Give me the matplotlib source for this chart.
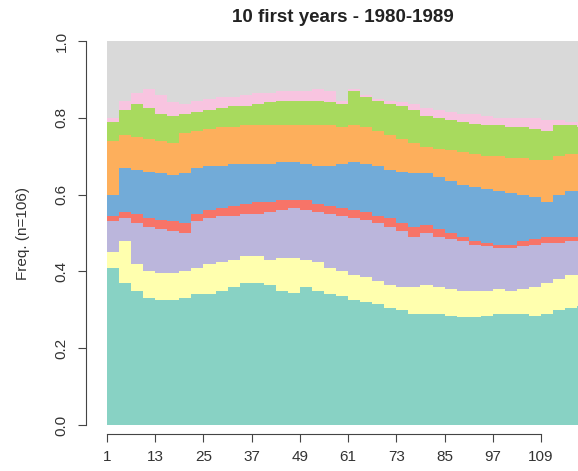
import numpy as np
import matplotlib.pyplot as plt

plt.rcParams['font.family'] = ['Liberation Sans', 'DejaVu Sans']

# mois (un point tous les 3 mois)
mois = np.arange(1, 121, 3)

# fréquences par état
etat1 = [0.41, 0.37, 0.35, 0.33, 0.325, 0.325, 0.33, 0.34, 0.34, 0.35,
         0.36, 0.37, 0.37, 0.365, 0.35, 0.345, 0.36, 0.35, 0.34, 0.335,
         0.325, 0.32, 0.315, 0.305, 0.30, 0.29, 0.29, 0.29, 0.285, 0.28,
         0.28, 0.285, 0.29, 0.29, 0.29, 0.285, 0.29, 0.30, 0.305, 0.31]
etat2 = [0.04, 0.11, 0.07, 0.07, 0.07, 0.07, 0.07, 0.07, 0.08, 0.075,
         0.07, 0.07, 0.07, 0.065, 0.085, 0.09, 0.07, 0.075, 0.07, 0.065,
         0.065, 0.065, 0.06, 0.06, 0.06, 0.07, 0.075, 0.07, 0.07, 0.07,
         0.07, 0.065, 0.065, 0.06, 0.065, 0.075, 0.08, 0.08, 0.085, 0.08]
etat3 = [0.08, 0.06, 0.105, 0.115, 0.115, 0.11, 0.10, 0.12, 0.12, 0.12,
         0.115, 0.11, 0.11, 0.125, 0.125, 0.13, 0.13, 0.13, 0.14, 0.145,
         0.15, 0.15, 0.15, 0.15, 0.145, 0.13, 0.135, 0.13, 0.13, 0.13,
         0.12, 0.115, 0.105, 0.11, 0.11, 0.11, 0.105, 0.095, 0.09, 0.09]
etat4 = [0.015, 0.015, 0.025, 0.025, 0.025, 0.025, 0.025, 0.02, 0.02, 0.02,
         0.025, 0.025, 0.03, 0.025, 0.025, 0.02, 0.025, 0.02, 0.02, 0.02,
         0.02, 0.02, 0.02, 0.025, 0.02, 0.025, 0.02, 0.02, 0.015, 0.01,
         0.01, 0.01, 0.01, 0.01, 0.015, 0.015, 0.015, 0.015, 0.01, 0.01]
etat5 = [0.055, 0.115, 0.115, 0.12, 0.12, 0.12, 0.13, 0.12, 0.115, 0.11,
         0.11, 0.105, 0.10, 0.10, 0.10, 0.10, 0.095, 0.10, 0.105, 0.115,
         0.125, 0.125, 0.13, 0.125, 0.135, 0.14, 0.135, 0.135, 0.135, 0.135,
         0.14, 0.14, 0.14, 0.135, 0.12, 0.11, 0.09, 0.11, 0.12, 0.12]
etat6 = [0.14, 0.085, 0.085, 0.085, 0.085, 0.085, 0.105, 0.095, 0.095, 0.10,
         0.095, 0.10, 0.10, 0.10, 0.095, 0.095, 0.10, 0.105, 0.105, 0.095,
         0.095, 0.095, 0.09, 0.09, 0.085, 0.08, 0.07, 0.075, 0.08, 0.085,
         0.085, 0.085, 0.09, 0.09, 0.095, 0.095, 0.11, 0.10, 0.095, 0.095]
etat7 = [0.05, 0.065, 0.085, 0.08, 0.07, 0.07, 0.05, 0.05, 0.05, 0.05,
         0.055, 0.05, 0.055, 0.06, 0.065, 0.065, 0.065, 0.065, 0.06, 0.06,
         0.09, 0.08, 0.08, 0.08, 0.085, 0.085, 0.08, 0.08, 0.08, 0.08,
         0.08, 0.08, 0.08, 0.08, 0.08, 0.08, 0.075, 0.08, 0.075, 0.07]
etat8 = [0.01, 0.025, 0.03, 0.05, 0.05, 0.035, 0.025, 0.03, 0.03, 0.03,
         0.025, 0.03, 0.03, 0.025, 0.025, 0.025, 0.025, 0.03, 0.03, 0.01,
         0.005, 0.005, 0.005, 0.01, 0.01, 0.015, 0.02, 0.02, 0.02, 0.02,
         0.025, 0.025, 0.02, 0.025, 0.025, 0.03, 0.03, 0.015, 0.01, 0.015]

couleurs = ['#88D2C4', '#FFFFAE', '#BBB6DC', '#F77468', '#72ABD8',
            '#FDAF5C', '#A8DA5E', '#F8C4E0', '#D9D9D9']

ticks_x = [1, 13, 25, 37, 49, 61, 73, 85, 97, 109]
ticks_y = [0.0, 0.2, 0.4, 0.6, 0.8, 1.0]

etats = [np.array(e) for e in [etat1, etat2, etat3, etat4, etat5, etat6, etat7, etat8]]
etats.append(1 - np.sum(etats, axis=0))  # dernier état = reste

fig = plt.figure(figsize=(5.78, 4.71), dpi=100)
ax = fig.add_axes([107 / 578, 46 / 471, 471 / 578, 384 / 471])

bords = np.append(mois, mois[-1] + 3)
base = np.zeros(len(mois))
for e, c in zip(etats, couleurs):
    ax.stairs(base + e, bords, baseline=base, fill=True, color=c, linewidth=0)
    base = base + e

ax.set_xlim(1, 118.2)
ax.set_ylim(0, 1)

# axes style R
for s in ['top', 'right']:
    ax.spines[s].set_visible(False)
ax.spines['left'].set_position(('outward', 15))
ax.spines['bottom'].set_position(('outward', 6.5))
ax.spines['left'].set_bounds(0, 1)
ax.spines['bottom'].set_bounds(1, 109)
ax.spines['left'].set_color('#444444')
ax.spines['bottom'].set_color('#444444')

ax.set_xticks(ticks_x)
ax.set_yticks(ticks_y)
ax.set_yticklabels([f'{v:.1f}' for v in ticks_y])
ax.tick_params(axis='both', length=5.5, color='#444444', labelcolor='#333333', labelsize=11)
ax.tick_params(axis='x', pad=6)
ax.tick_params(axis='y', pad=7)
for lab in ax.get_yticklabels():
    lab.set_rotation(90)
    lab.set_va('center')

ax.set_ylabel('Freq. (n=106)', fontsize=11, color='#333333', labelpad=18)
fig.text(343 / 578, 1 - 17 / 471, '10 first years - 1980-1989', ha='center', va='center',
         fontsize=13.5, fontweight='bold', color='#222222')

fig.savefig('out.png', dpi=100)
